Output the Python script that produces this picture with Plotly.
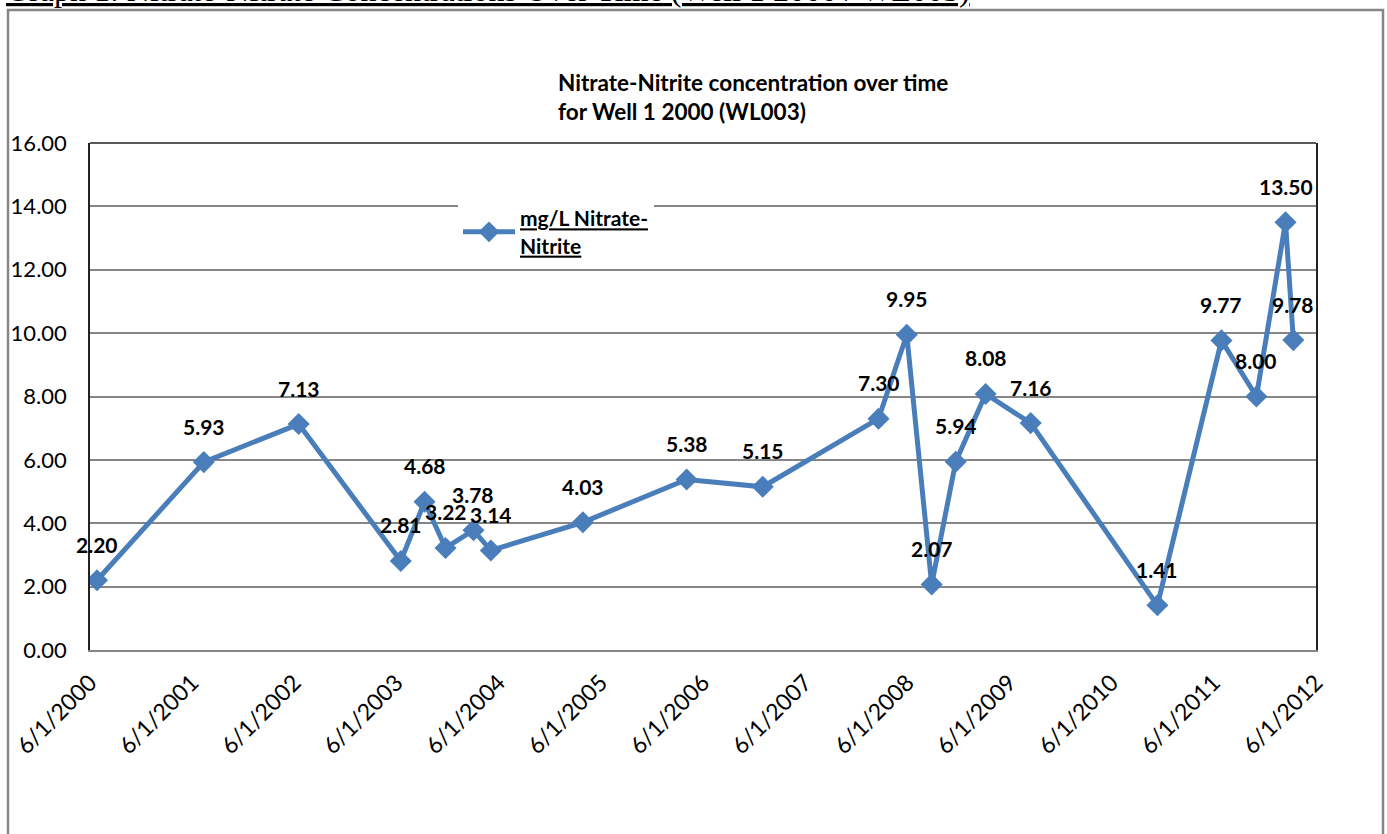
import plotly.graph_objects as go

# ---- data ----
sample_dates = ["2000-06-26", "2001-07-13", "2002-06-17", "2003-06-17", "2003-09-10",
                "2003-11-24", "2004-03-03", "2004-05-04", "2005-03-29", "2006-04-04",
                "2007-01-01", "2008-02-19", "2008-05-30", "2008-08-27", "2008-11-21",
                "2009-03-08", "2009-08-16", "2010-11-12", "2011-06-29", "2011-11-01",
                "2012-02-13", "2012-03-12"]
nitrate_mg_l = [2.20, 5.93, 7.13, 2.81, 4.68, 3.22, 3.78, 3.14, 4.03, 5.38, 5.15,
                7.30, 9.95, 2.07, 5.94, 8.08, 7.16, 1.41, 9.77, 8.00, 13.50, 9.78]
tick_dates = ["%d-06-01" % y for y in range(2000, 2013)]
tick_labels = ["6/1/%d" % y for y in range(2000, 2013)]
y_ticks = [0, 2, 4, 6, 8, 10, 12, 14, 16]
series_name = ["mg/L Nitrate-", "Nitrite"]
chart_title = ["Nitrate-Nitrite concentration over time", "for Well 1 2000 (WL003)"]
page_caption = "Graph 1: Nitrate-Nitrate Concentrations Over Time (Well 1 2000 / WL003)"

# ---- layout geometry (pixels) ----
W, H = 1387, 834
L, R, T, B = 90, 1316, 143, 650
pw, ph = R - L, B - T
def px(x): return (x - L) / pw
def py(y): return (B - y) / ph

FONT = "Lato"
BLUE = "#4A7EBB"
GRID = "#868686"

fig = go.Figure()
fig.add_trace(go.Scatter(
    x=sample_dates, y=nitrate_mg_l, mode="lines+markers",
    name="<br>".join("<b><u>%s</u></b>" % s for s in series_name),
    line=dict(color=BLUE, width=5),
    marker=dict(symbol="diamond", size=17, color=BLUE),
    showlegend=True,
))

annotations = []
for d, v in zip(sample_dates, nitrate_mg_l):
    annotations.append(dict(
        x=d, y=v, xref="x", yref="y", text="<b>%.2f</b>" % v, showarrow=False,
        yshift=36, xanchor="center", yanchor="middle",
        font=dict(family=FONT, size=21, color="black")))

annotations.append(dict(
    x=px(556), y=py(67), xref="paper", yref="paper", xanchor="left", yanchor="top",
    align="left", showarrow=False,
    text="<b>" + "<br>".join(chart_title) + "</b>",
    font=dict(family=FONT, size=22.5, color="black")))

annotations.append(dict(
    x=px(4), y=py(10), xref="paper", yref="paper", xanchor="left", yanchor="bottom",
    align="left", showarrow=False, text="<u>" + page_caption + "</u>",
    font=dict(family="Liberation Serif", size=32, color="black")))

shapes = [
    # outer frame
    dict(type="rect", xref="paper", yref="paper", x0=px(8), x1=px(1383), y0=py(845), y1=py(10),
         line=dict(color=GRID, width=2.5), fillcolor="rgba(0,0,0,0)", layer="below"),
    # top plot border
    dict(type="line", xref="paper", yref="paper", x0=0, x1=1, y0=1, y1=1,
         line=dict(color="#222222", width=1.5)),
]

fig.update_layout(
    width=W, height=H,
    margin=dict(l=L, r=W - R, t=T, b=H - B, pad=0, autoexpand=False),
    paper_bgcolor="white", plot_bgcolor="white",
    font=dict(family=FONT, size=21, color="black"),
    showlegend=True,
    legend=dict(x=px(458), y=py(198), xanchor="left", yanchor="top",
                bgcolor="white", font=dict(family=FONT, size=21, color="black"),
                itemwidth=52, tracegroupgap=0),
    xaxis=dict(type="date", range=[tick_dates[0], tick_dates[-1]], automargin=False,
               tickvals=tick_dates, ticktext=tick_labels, tickangle=-45,
               showgrid=False, zeroline=False, showline=True, linecolor=GRID, linewidth=2,
               ticks="", ticklabelstandoff=8,
               tickfont=dict(family=FONT, size=23, color="black")),
    yaxis=dict(range=[0, 16], tickvals=y_ticks, ticktext=["%.2f" % t for t in y_ticks],
               automargin=False,
               showgrid=True, gridcolor=GRID, gridwidth=1.5, zeroline=False,
               showline=True, linecolor="#222222", linewidth=1.5, mirror=True,
               ticks="", ticklabelstandoff=17,
               tickfont=dict(family=FONT, size=22, color="black")),
    annotations=annotations, shapes=shapes,
)

fig.write_html("out.html", config={"displayModeBar": False},
               post_script="document.body.style.margin='0px';document.body.style.overflow='hidden';")
